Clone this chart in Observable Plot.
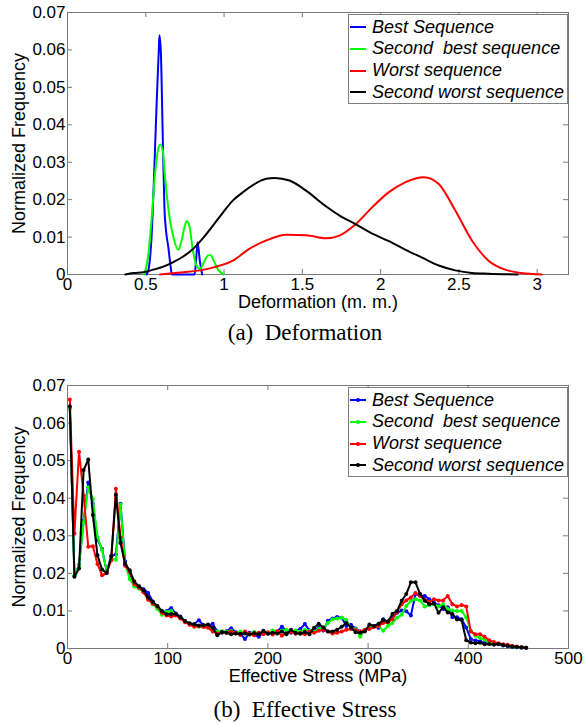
<!DOCTYPE html>
<html><head><meta charset="utf-8">
<script src="https://cdn.jsdelivr.net/npm/d3@7"></script>
<script src="https://cdn.jsdelivr.net/npm/@observablehq/plot@0.6"></script>
<style>
body{margin:0;background:#fff;width:584px;height:724px;position:relative;overflow:hidden;font-family:"Liberation Sans",Arial,sans-serif}
.panel{position:absolute;left:0}
.legend{position:absolute;background:#fff;border:1px solid #808080;box-sizing:border-box}
.row{position:absolute;left:0;height:20px;display:flex;align-items:center;white-space:pre;font-style:italic;font-size:18px;color:#000}
.row svg{margin-left:1px;margin-right:6px}
.caption{position:absolute;left:13px;width:584px;text-align:center;font-family:"Liberation Serif","Times New Roman",serif;font-size:23px;line-height:26px;white-space:pre;color:#000}
</style></head><body>
<div id="pa" class="panel" style="top:0"></div>
<div id="pb" class="panel" style="top:370px"></div>
<div class="caption" style="top:320px">(a)  Deformation</div>
<div class="caption" style="top:697px">(b)  Effective Stress</div>
<script>
// ---------- shared ----------
const seriesNames = ["Best Sequence", "Second  best sequence", "Worst sequence", "Second worst sequence"];
const seriesColors = ["#0000ff", "#00ff00", "#ff0000", "#000000"];
const yTicks = [0, 0.01, 0.02, 0.03, 0.04, 0.05, 0.06, 0.07];
const yLabel = "Normalized Frequency";

// ---------- panel (a): Deformation ----------
const defTicks = [0, 0.5, 1, 1.5, 2, 2.5, 3];
const defLabel = "Deformation (m. m.)";
const defBestX = [0.505, 0.517, 0.538, 0.555, 0.570, 0.583, 0.587, 0.596, 0.608, 0.619, 0.629, 0.644, 0.659, 0.667, 0.74, 0.812, 0.822, 0.831, 0.845, 0.860];
const defBestY = [0, 0.0012, 0.0109, 0.0287, 0.0465, 0.0598, 0.0639, 0.0598, 0.0376, 0.0180, 0.0118, 0.0073, 0.0020, 0, 0, 0, 0.0042, 0.0086, 0.0037, 0];
const defSecondBestX = [0.490, 0.517, 0.538, 0.559, 0.580, 0.593, 0.608, 0.623, 0.638, 0.655, 0.676, 0.708, 0.729, 0.750, 0.763, 0.778, 0.799, 0.824, 0.846, 0.871, 0.898, 0.913, 0.934, 0.962, 0.998];
const defSecondBestY = [0, 0.0055, 0.0153, 0.0269, 0.0336, 0.0347, 0.0331, 0.0260, 0.0198, 0.0144, 0.0100, 0.0066, 0.0091, 0.0131, 0.0142, 0.0131, 0.0069, 0.0024, 0.0015, 0.0033, 0.0051, 0.0052, 0.0037, 0.0013, 0];
const defWorstX = [0.591, 0.739, 0.846, 0.952, 1.057, 1.163, 1.270, 1.397, 1.524, 1.651, 1.736, 1.842, 1.947, 2.053, 2.160, 2.276, 2.371, 2.477, 2.583, 2.689, 2.795, 2.900, 3.028];
const defWorstY = [0, 0.0006, 0.0011, 0.0021, 0.0037, 0.0069, 0.0091, 0.0106, 0.0105, 0.0097, 0.0104, 0.0135, 0.0180, 0.0220, 0.0247, 0.0260, 0.0242, 0.0171, 0.0091, 0.0037, 0.0013, 0.0004, 0];
const defSecondWorstX = [0.369, 0.421, 0.485, 0.549, 0.612, 0.676, 0.739, 0.803, 0.867, 0.930, 0.994, 1.057, 1.121, 1.163, 1.270, 1.324, 1.418, 1.524, 1.629, 1.736, 1.842, 1.947, 2.053, 2.160, 2.265, 2.371, 2.477, 2.583, 2.689, 2.875];
const defSecondWorstY = [0, 0.0004, 0.0006, 0.0013, 0.0021, 0.0033, 0.0048, 0.0069, 0.0098, 0.0131, 0.0166, 0.0198, 0.0220, 0.0233, 0.0256, 0.0258, 0.0251, 0.0224, 0.0189, 0.0158, 0.0134, 0.0109, 0.0089, 0.0066, 0.0045, 0.0024, 0.0011, 0.0004, 0.0002, 0];

// ---------- panel (b): Effective Stress ----------
const stressTicks = [0, 100, 200, 300, 400, 500];
const stressLabel = "Effective Stress (MPa)";
const stressX = [2.3, 6.9, 11.5, 16.1, 20.7, 25.3, 29.9, 34.5, 39.1, 43.7, 48.3, 52.9, 57.5, 62.1, 66.7, 71.3, 75.9, 80.5, 85.1, 89.7,
  94.3, 98.9, 103.5, 108.1, 112.7, 117.3, 121.9, 126.5, 131.1, 135.7, 140.3, 144.9, 149.5, 154.1, 158.7, 163.3, 167.9, 172.5, 177.1, 181.7,
  186.3, 190.9, 195.5, 200.1, 204.7, 209.3, 213.9, 218.5, 223.1, 227.7, 232.3, 236.9, 241.5, 246.1, 250.7, 255.3, 259.9, 264.5, 269.1, 273.7,
  278.3, 282.9, 287.5, 292.1, 296.7, 301.3, 305.9, 310.5, 315.1, 319.7, 324.3, 328.9, 333.5, 338.1, 342.7, 347.3, 351.9, 356.5, 361.1, 365.7,
  370.3, 374.9, 379.5, 384.1, 388.7, 393.3, 397.9, 402.5, 407.1, 411.7, 416.3, 420.9, 425.5, 430.1, 434.7, 439.3, 443.9, 448.5, 453.1, 457.7];
const stressBest = [0.0640, 0.0193, 0.0222, 0.0340, 0.0442, 0.0385, 0.0290, 0.0265, 0.0205, 0.0247, 0.0250, 0.0385, 0.0232, 0.0200, 0.0170, 0.0165, 0.0158, 0.0148, 0.0125, 0.0110,
  0.0095, 0.0100, 0.0108, 0.0093, 0.0085, 0.0073, 0.0066, 0.0065, 0.0075, 0.0062, 0.0058, 0.0066, 0.0045, 0.0042, 0.0046, 0.0054, 0.0043, 0.0040, 0.0025, 0.0042,
  0.0036, 0.0031, 0.0044, 0.0040, 0.0043, 0.0045, 0.0058, 0.0048, 0.0042, 0.0046, 0.0052, 0.0065, 0.0048, 0.0050, 0.0055, 0.0048, 0.0074, 0.0080, 0.0084, 0.0082,
  0.0060, 0.0063, 0.0053, 0.0045, 0.0048, 0.0056, 0.0060, 0.0055, 0.0078, 0.0070, 0.0082, 0.0095, 0.0101, 0.0099, 0.0088, 0.0145, 0.0141, 0.0140, 0.0131, 0.0122,
  0.0115, 0.0105, 0.0110, 0.0083, 0.0083, 0.0078, 0.0056, 0.0025, 0.0021, 0.0019, 0.0015, 0.0013, 0.0012, 0.0011, 0.0008, 0.0006, 0.0004, 0.0003, 0.0002, 0.0002];
const stressSecondBest = [0.0640, 0.0195, 0.0220, 0.0336, 0.0429, 0.0398, 0.0296, 0.0262, 0.0207, 0.0240, 0.0236, 0.0383, 0.0225, 0.0185, 0.0165, 0.0160, 0.0150, 0.0135, 0.0118, 0.0105,
  0.0090, 0.0098, 0.0100, 0.0090, 0.0082, 0.0072, 0.0065, 0.0060, 0.0058, 0.0060, 0.0057, 0.0050, 0.0045, 0.0046, 0.0044, 0.0047, 0.0040, 0.0045, 0.0042, 0.0038,
  0.0044, 0.0040, 0.0045, 0.0041, 0.0048, 0.0043, 0.0047, 0.0050, 0.0046, 0.0048, 0.0045, 0.0050, 0.0047, 0.0045, 0.0052, 0.0055, 0.0068, 0.0078, 0.0080, 0.0082,
  0.0076, 0.0052, 0.0052, 0.0031, 0.0050, 0.0055, 0.0058, 0.0060, 0.0047, 0.0060, 0.0068, 0.0082, 0.0090, 0.0113, 0.0127, 0.0131, 0.0128, 0.0112, 0.0115, 0.0118,
  0.0112, 0.0118, 0.0105, 0.0101, 0.0100, 0.0100, 0.0083, 0.0047, 0.0034, 0.0028, 0.0023, 0.0016, 0.0013, 0.0012, 0.0010, 0.0008, 0.0005, 0.0003, 0.0003, 0.0002];
const stressWorst = [0.0663, 0.0306, 0.0524, 0.0407, 0.0271, 0.0272, 0.0225, 0.0195, 0.0201, 0.0235, 0.0425, 0.0296, 0.0220, 0.0205, 0.0172, 0.0162, 0.0150, 0.0130, 0.0120, 0.0112,
  0.0095, 0.0088, 0.0085, 0.0088, 0.0080, 0.0070, 0.0063, 0.0058, 0.0060, 0.0057, 0.0055, 0.0045, 0.0040, 0.0043, 0.0042, 0.0045, 0.0041, 0.0036, 0.0045, 0.0040,
  0.0035, 0.0042, 0.0038, 0.0043, 0.0037, 0.0046, 0.0034, 0.0040, 0.0044, 0.0039, 0.0042, 0.0038, 0.0045, 0.0042, 0.0047, 0.0050, 0.0045, 0.0040, 0.0042, 0.0045,
  0.0050, 0.0052, 0.0049, 0.0045, 0.0050, 0.0052, 0.0057, 0.0060, 0.0068, 0.0070, 0.0078, 0.0098, 0.0118, 0.0128, 0.0136, 0.0148, 0.0140, 0.0130, 0.0124, 0.0131,
  0.0128, 0.0128, 0.0140, 0.0118, 0.0112, 0.0116, 0.0112, 0.0045, 0.0038, 0.0038, 0.0031, 0.0022, 0.0017, 0.0014, 0.0011, 0.0010, 0.0007, 0.0005, 0.0003, 0.0002];
const stressSecondWorst = [0.0645, 0.0191, 0.0213, 0.0475, 0.0503, 0.0355, 0.0248, 0.0210, 0.0201, 0.0245, 0.0409, 0.0281, 0.0225, 0.0208, 0.0178, 0.0166, 0.0155, 0.0136, 0.0124, 0.0113,
  0.0100, 0.0091, 0.0092, 0.0092, 0.0083, 0.0073, 0.0067, 0.0064, 0.0061, 0.0062, 0.0064, 0.0055, 0.0035, 0.0044, 0.0042, 0.0038, 0.0040, 0.0039, 0.0040, 0.0037,
  0.0041, 0.0038, 0.0047, 0.0039, 0.0042, 0.0040, 0.0045, 0.0038, 0.0050, 0.0041, 0.0039, 0.0044, 0.0038, 0.0055, 0.0066, 0.0056, 0.0045, 0.0045, 0.0050, 0.0058,
  0.0068, 0.0056, 0.0043, 0.0042, 0.0045, 0.0064, 0.0060, 0.0066, 0.0076, 0.0072, 0.0092, 0.0100, 0.0127, 0.0145, 0.0176, 0.0176, 0.0145, 0.0127, 0.0118, 0.0120,
  0.0095, 0.0110, 0.0096, 0.0092, 0.0077, 0.0076, 0.0022, 0.0016, 0.0014, 0.0015, 0.0011, 0.0012, 0.0010, 0.0012, 0.0009, 0.0007, 0.0005, 0.0004, 0.0003, 0.0002];

// ---------- build tables ----------
const defSeries = [[defBestX, defBestY], [defSecondBestX, defSecondBestY], [defWorstX, defWorstY], [defSecondWorstX, defSecondWorstY]];
const defData = defSeries.flatMap(([xs, ys], k) => xs.map((x, i) => ({x, y: ys[i], s: seriesNames[k]})));
const stressSeries = [stressBest, stressSecondBest, stressWorst, stressSecondWorst];
const stressData = stressSeries.flatMap((ys, k) => ys.map((y, i) => ({x: stressX[i], y, s: seriesNames[k]})));

const W = 584, ML = 67, MR = 16;
const axisColor = "#7a7a7a";
const fmt = d3.format("~g");

function panel({data, xDomain, xTicks, xLabel, height, marginTop, marginBottom, dots}) {
  const frameW = W - ML - MR;
  const frameH = height - marginTop - marginBottom;
  const marks = [
    Plot.frame({stroke: axisColor, strokeWidth: 1}),
    Plot.tickX(xTicks, {x: d => d, insetTop: frameH - 5, stroke: axisColor}),
    Plot.tickX(xTicks, {x: d => d, insetBottom: frameH - 5, stroke: axisColor}),
    Plot.tickY(yTicks, {y: d => d, insetRight: frameW - 5, stroke: axisColor}),
    Plot.tickY(yTicks, {y: d => d, insetLeft: frameW - 5, stroke: axisColor}),
    Plot.axisX(xTicks, {tickSize: 0, tickPadding: 3, fontSize: 17, tickFormat: fmt, label: null, fill: "#000"}),
    Plot.axisY(yTicks, {tickSize: 0, tickPadding: 2, fontSize: 17, tickFormat: fmt, label: null, fill: "#000"}),
    Plot.text([xLabel], {text: d => d, frameAnchor: "bottom", lineAnchor: "middle", textAnchor: "middle", dy: 28, fontSize: 18, fill: "#000"}),
    Plot.text([yLabel], {text: d => d, frameAnchor: "left", textAnchor: "middle", lineAnchor: "middle", rotate: -90, dx: -48, fontSize: 18, fill: "#000"})
  ];
  seriesNames.forEach((name, k) => {
    const rows = data.filter(d => d.s === name);
    marks.push(Plot.line(rows, {x: "x", y: "y", stroke: seriesColors[k], strokeWidth: 2, curve: dots ? "linear" : "monotone-x"}));
    if (dots) marks.push(Plot.dot(rows, {x: "x", y: "y", r: 2, fill: seriesColors[k], stroke: "none"}));
  });
  return Plot.plot({
    width: W, height, marginLeft: ML, marginRight: MR, marginTop, marginBottom,
    x: {domain: xDomain},
    y: {domain: [0, 0.07]},
    style: {fontFamily: '"Liberation Sans", Arial, sans-serif', fontSize: "17px", background: "transparent", overflow: "visible"},
    marks
  });
}

document.getElementById("pa").appendChild(panel({data: defData, xDomain: [0, 3.2], xTicks: defTicks, xLabel: defLabel, height: 315, marginTop: 12, marginBottom: 41, dots: false}));
document.getElementById("pb").appendChild(panel({data: stressData, xDomain: [0, 500], xTicks: stressTicks, xLabel: stressLabel, height: 320, marginTop: 15, marginBottom: 42, dots: true}));

function legend(top, dots) {
  const box = document.createElement("div");
  box.className = "legend";
  Object.assign(box.style, {left: "348px", top: top + "px", width: "220px", height: "90px"});
  seriesNames.forEach((name, k) => {
    const row = document.createElement("div");
    row.className = "row";
    row.style.top = (2 + k * 21.8) + "px";
    const svg = d3.create("svg").attr("width", 16).attr("height", 10);
    svg.append("line").attr("x1", 0).attr("x2", 16).attr("y1", 5).attr("y2", 5).attr("stroke", seriesColors[k]).attr("stroke-width", 2);
    if (dots) svg.append("circle").attr("cx", 8).attr("cy", 5).attr("r", 2).attr("fill", seriesColors[k]);
    row.appendChild(svg.node());
    const t = document.createElement("span");
    t.textContent = name;
    row.appendChild(t);
    box.appendChild(row);
  });
  document.body.appendChild(box);
}
legend(14, false);
legend(387, true);
</script>
</body></html>
